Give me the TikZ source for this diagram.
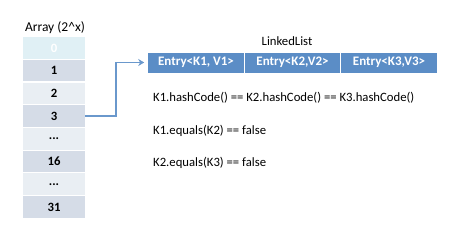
\documentclass[tikz,border=0pt]{standalone}
\usepackage{fontspec}
\setmainfont{Carlito}
\usetikzlibrary{arrows.meta}
\definecolor{celldark}{HTML}{D5DCE7}
\definecolor{celllight}{HTML}{E9EEF3}
\definecolor{cellzero}{HTML}{E0F0F5}
\definecolor{entryblue}{HTML}{5B8DC6}
\definecolor{arrowblue}{HTML}{6A98CC}
\tikzset{
  cell/.style={minimum width=62pt, minimum height=21.5pt, inner sep=0pt, font=\fontsize{12.7}{14}\selectfont\bfseries, text=black},
  entrybox/.style={fill=entryblue, draw=white, line width=0.6pt, minimum width=97pt, minimum height=21pt, inner sep=0pt, text=white, font=\fontsize{13}{14}\selectfont\bfseries},
  lbl/.style={inner sep=0pt, font=\fontsize{12.7}{14}\selectfont, anchor=west},
  conn/.style={draw=arrowblue, line width=1.5pt, -{Stealth[length=6pt,width=7pt]}}
}
\begin{document}
\begin{tikzpicture}[x=1pt,y=-1pt]
\useasboundingbox (0,0) rectangle (450,245);
\node[inner sep=0pt, font=\fontsize{13.5}{14}\selectfont] (title) at (55,28) {Array (2\^{}x)};
\node[cell, fill=cellzero, text=white] (c0) at (54,48) {0};
\node[cell, fill=celldark] (c1) at (54,70.7) {1};
\node[cell, fill=celllight] (c2) at (54,93.4) {2};
\node[cell, fill=celldark] (c3) at (54,116.1) {3};
\node[cell, fill=celllight] (c4) at (54,138.8) {...};
\node[cell, fill=celldark] (c5) at (54,161.5) {16};
\node[cell, fill=celllight] (c6) at (54,184.2) {...};
\node[cell, fill=celldark] (c7) at (54,206.9) {31};
\node[inner sep=0pt, font=\fontsize{12.7}{14}\selectfont] (ll) at (287,41) {LinkedList};
\node[entrybox] (e1) at (196,62.5) {Entry<K1, V1>};
\node[entrybox] (e2) at (292.5,62.5) {Entry<K2,V2>};
\node[entrybox] (e3) at (389,62.5) {Entry<K3,V3>};
\coordinate (bend1) at (116,116.1);
\coordinate (bend2) at (116,62.5);
\draw[conn] (c3.east) -- (bend1) -- (bend2) -- ([xshift=-3pt]e1.west);
\node[lbl] (h) at (153,98) {K1.hashCode() == K2.hashCode() == K3.hashCode()};
\node[lbl] (q1) at (153,131) {K1.equals(K2) == false};
\node[lbl] (q2) at (153,162.5) {K2.equals(K3) == false};
\end{tikzpicture}
\end{document}
